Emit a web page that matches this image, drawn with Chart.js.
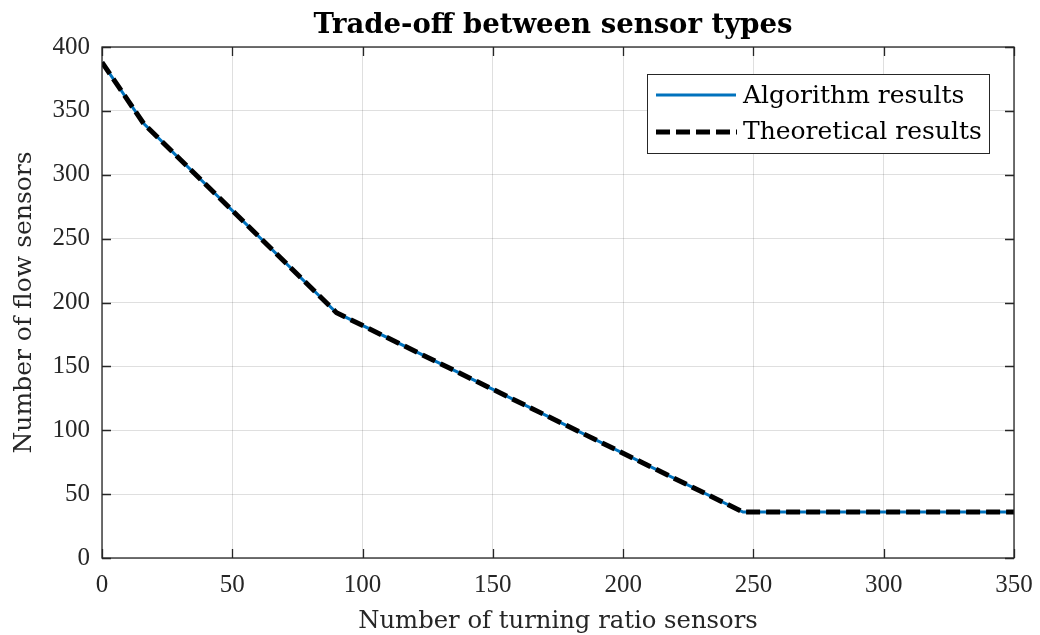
<!DOCTYPE html>
<html>
<head>
<meta charset="utf-8">
<script src="https://cdn.jsdelivr.net/npm/chart.js@4.4.0/dist/chart.umd.min.js"></script>
<style>
    html, body { margin: 0; padding: 0; background: #fff; }
    #wrap { width: 1040px; height: 635px; }
</style>
</head>
<body>
<div id="wrap"><canvas id="tradeoffChart"></canvas></div>
<script>
// ================= Data =================
const turningRatioSensors = [0, 16, 90, 246, 350];
const algorithmFlowSensors = [388, 340, 192, 36, 36];
const theoreticalFlowSensors = [388, 340, 192, 36, 36];
const seriesNames = ["Algorithm results", "Theoretical results"];
const chartTitle = "Trade-off between sensor types";
const xTickValues = [0, 50, 100, 150, 200, 250, 300, 350];
const yTickValues = [0, 50, 100, 150, 200, 250, 300, 350, 400];

const textFont = "'DejaVu Serif', serif";
const digitFont = "'Liberation Serif', serif";
const axisColor = "#262626";

function toPoints(xs, ys) {
    return xs.map((x, i) => ({ x: x, y: ys[i] }));
}

// ================= Title, box, inner ticks, legend =================
const matlabFrame = {
    id: "matlabFrame",
    afterDatasetsDraw(chart) {
        const ctx = chart.ctx;
        const area = chart.chartArea;
        const xs = chart.scales.x;
        const ys = chart.scales.y;
        const tl = 9;

        ctx.save();

        // title over the axes
        ctx.fillStyle = "#000";
        ctx.font = "bold 27.5px " + textFont;
        ctx.textAlign = "center";
        ctx.textBaseline = "alphabetic";
        ctx.fillText(chartTitle, (area.left + area.right) / 2 - 5, 33);

        ctx.strokeStyle = axisColor;
        ctx.lineWidth = 1.3;
        ctx.beginPath();
        xTickValues.forEach(v => {
            const px = Math.round(xs.getPixelForValue(v)) + 0.5;
            ctx.moveTo(px, area.bottom);
            ctx.lineTo(px, area.bottom - tl);
            ctx.moveTo(px, area.top);
            ctx.lineTo(px, area.top + tl);
        });
        yTickValues.forEach(v => {
            const py = Math.round(ys.getPixelForValue(v)) + 0.5;
            ctx.moveTo(area.left, py);
            ctx.lineTo(area.left + tl, py);
            ctx.moveTo(area.right, py);
            ctx.lineTo(area.right - tl, py);
        });
        ctx.stroke();
        ctx.strokeRect(area.left, area.top, area.right - area.left, area.bottom - area.top);

        // legend
        const bx = 647, by = 74, bw = 342, bh = 79;
        ctx.fillStyle = "#fff";
        ctx.fillRect(bx, by, bw, bh);
        ctx.lineWidth = 1;
        ctx.strokeRect(bx + 0.5, by + 0.5, bw, bh);

        ctx.lineWidth = 3;
        ctx.strokeStyle = "#0072BD";
        ctx.beginPath();
        ctx.moveTo(656, 95);
        ctx.lineTo(736, 95);
        ctx.stroke();

        ctx.lineWidth = 5;
        ctx.strokeStyle = "#000";
        ctx.setLineDash([14, 6]);
        ctx.beginPath();
        ctx.moveTo(656, 132);
        ctx.lineTo(737, 132);
        ctx.stroke();
        ctx.setLineDash([]);

        ctx.fillStyle = "#000";
        ctx.font = "25px " + textFont;
        ctx.textAlign = "left";
        ctx.fillText(seriesNames[0], 743, 103);
        ctx.fillText(seriesNames[1], 743, 139);
        ctx.restore();
    }
};

// ================= Chart =================
const tradeoffChart = new Chart(document.getElementById("tradeoffChart"), {
    type: "line",
    data: {
        datasets: [{
            label: seriesNames[0],
            data: toPoints(turningRatioSensors, algorithmFlowSensors),
            borderColor: "#0072BD",
            borderWidth: 3,
            pointRadius: 0,
            tension: 0,
            order: 2
        }, {
            label: seriesNames[1],
            data: toPoints(turningRatioSensors, theoreticalFlowSensors),
            borderColor: "#000000",
            borderWidth: 5,
            borderDash: [14, 6],
            pointRadius: 0,
            tension: 0,
            order: 1
        }]
    },
    options: {
        responsive: true,
        maintainAspectRatio: false,
        animation: false,
        layout: {
            autoPadding: false,
            padding: { top: 47, right: 26, bottom: 0, left: 0 }
        },
        plugins: {
            legend: { display: false },
            tooltip: { enabled: false },
            title: { display: false }
        },
        scales: {
            x: {
                type: "linear",
                min: 0,
                max: 350,
                afterBuildTicks: s => { s.ticks = xTickValues.map(v => ({ value: v })); },
                afterFit: s => {
                    s.height = 77;
                    s.paddingLeft = 0;
                    s.paddingRight = 0;
                },
                grid: {
                    color: "rgba(38,38,38,0.15)",
                    drawTicks: false
                },
                border: { display: false },
                ticks: {
                    color: axisColor,
                    padding: 12,
                    maxRotation: 0,
                    font: { family: digitFont, size: 25 }
                },
                title: {
                    display: true,
                    text: "Number of turning ratio sensors",
                    color: axisColor,
                    font: { family: textFont, size: 24.3, lineHeight: 1.0 },
                    padding: { top: 0, bottom: 1 }
                }
            },
            y: {
                type: "linear",
                min: 0,
                max: 400,
                afterBuildTicks: s => { s.ticks = yTickValues.map(v => ({ value: v })); },
                afterFit: s => {
                    s.width = 102;
                    s.paddingTop = 0;
                    s.paddingBottom = 0;
                },
                grid: {
                    color: "rgba(38,38,38,0.15)",
                    drawTicks: false
                },
                border: { display: false },
                ticks: {
                    color: axisColor,
                    padding: 12,
                    font: { family: digitFont, size: 25 }
                },
                title: {
                    display: true,
                    text: "Number of flow sensors",
                    color: axisColor,
                    font: { family: textFont, size: 25, lineHeight: 1.0 },
                    padding: { top: 12, bottom: 0 }
                }
            }
        }
    },
    plugins: [matlabFrame]
});
</script>
</body>
</html>
